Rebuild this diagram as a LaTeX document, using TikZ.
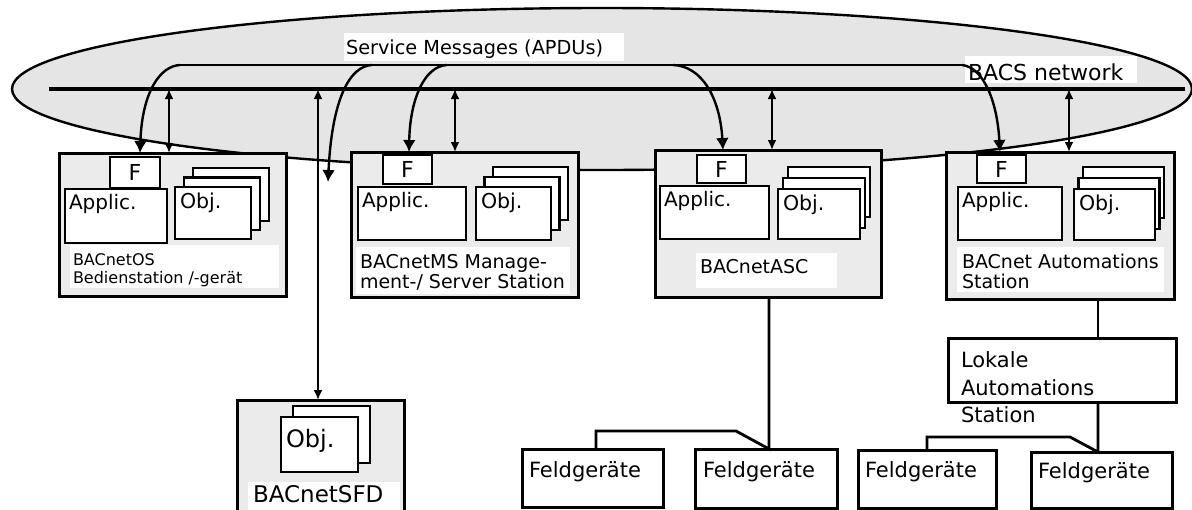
\documentclass[tikz,border=0pt]{standalone}
\usepackage{fontspec}
\setmainfont{DejaVu Sans}
\usetikzlibrary{arrows.meta,shapes.geometric}
\newcommand\FS[1]{\fontsize{#1}{#1}\selectfont}
\newcommand\RBox[7]{\node[#2, anchor=north west, minimum width={(#5)-(#3)}, minimum height={(#6)-(#4)}] (#1) at (#3,#4) {#7};}
\begin{document}
\begin{tikzpicture}[x=1pt,y=-1pt,
  every node/.style={inner sep=0pt, outer sep=0pt},
  station/.style={draw, line width=3pt, fill=black!8},
  inner/.style={draw, line width=2.8pt, fill=white},
  fbox/.style={draw, line width=2.6pt, fill=white, font=\FS{22}},
  labelbg/.style={fill=white},
  field/.style={draw, line width=3pt, fill=white},
  txt/.style={anchor=base west, inner sep=0pt},
  conn/.style={line width=2.8pt},
  dbl/.style={line width=2.4pt, {Latex[length=10pt,width=9pt]}-{Latex[length=10pt,width=9pt]}},
  msg/.style={line width=2.4pt, -{Latex[length=12pt,width=13pt]}},
]
\useasboundingbox (0,0) rectangle (1192,509);
\fill[white] (0,0) rectangle (1192,509);

% network ellipse
\node[draw, line width=2.4pt, fill=black!10, ellipse, minimum width=1180pt, minimum height=162pt] (net) at (602,89) {};

% labels on the network
\RBox{smbg}{labelbg}{344}{33}{624}{61}{}
\node[txt, font=\FS{19.3}] (smt) at (346,54) {Service Messages (APDUs)};
\RBox{bacsbg}{labelbg}{965}{56}{1137}{83}{}
\node[txt, font=\FS{22}] (bacst) at (968,80) {BACS network};

% bus
\coordinate (busL) at (49,89);
\coordinate (busR) at (1185,89);
\draw[line width=4.5pt] (busL) -- (busR);

% message line
\coordinate (mA) at (180,65);
\coordinate (mM) at (740,65);
\coordinate (mB) at (962,65);
\draw[line width=2pt] (mA) -- (mM);
\draw[line width=1.2pt] (mM) -- (mB);

% stations
\RBox{os}{station}{59}{153}{286}{296}{}
\RBox{ms}{station}{351}{152}{578}{297}{}
\RBox{asc}{station}{655}{150}{881}{297}{}
\RBox{as}{station}{946}{152}{1174}{299}{}
\RBox{sfd}{station}{237}{400}{404}{525}{}

% message arrows
\coordinate (m2) at (372,65);
\coordinate (m3) at (447,65);
\coordinate (m4) at (673,65);
\coordinate (a2) at (328,182);
\draw[msg] (mA) .. controls (160,66) and (142,92) .. (os.north -| 140,0);
\draw[msg] (m2) .. controls (350,66) and (332,98) .. (a2);
\draw[msg] (m3) .. controls (425,66) and (410,98) .. (ms.north -| 409,0);
\draw[msg] (m4) .. controls (702,66) and (720,98) .. (asc.north -| 723,0);
\draw[msg] (mB) .. controls (982,67) and (997,98) .. (as.north -| 1000,0);

% bus access arrows
\coordinate (b1) at (169,89);
\coordinate (b0) at (318,89);
\coordinate (b2) at (455,89);
\coordinate (b3) at (772,89);
\coordinate (b4) at (1069,89);
\draw[dbl] (b1) -- (b1 |- os.north);
\draw[dbl] (b0) -- (b0 |- sfd.north);
\draw[dbl] (b2) -- (b2 |- ms.north);
\draw[dbl] (b3) -- (b3 |- asc.north);
\draw[dbl] (b4) -- (b4 |- as.north);

% --- BACnetOS
\RBox{osF}{fbox}{110}{157}{160}{188}{F}
\RBox{osA}{inner}{65}{189}{167}{243}{}
\node[txt, font=\FS{20}] (osAt) at (69,209) {Applic.};
\RBox{osO3}{inner}{193}{168}{269}{221}{}
\RBox{osO2}{inner}{184}{177.5}{260}{230}{}
\RBox{osO1}{inner}{175}{187}{251}{239}{}
\node[txt, font=\FS{20.5}] (osOt) at (180,208) {Obj.};
\RBox{osL}{labelbg}{70}{245}{279}{288}{}
\node[txt, font=\FS{16}] (osL1) at (73,265) {BACnetOS};
\node[txt, font=\FS{16}] (osL2) at (73,283) {Bedienstation /-gerät};

% --- BACnetMS
\RBox{msF}{fbox}{383}{155}{432}{184}{F}
\RBox{msA}{inner}{358}{187}{466}{240}{}
\node[txt, font=\FS{20}] (msAt) at (362,207) {Applic.};
\RBox{msO3}{inner}{493}{167}{568}{220}{}
\RBox{msO2}{inner}{484.5}{177}{559.5}{230}{}
\RBox{msO1}{inner}{476}{187}{551}{240}{}
\node[txt, font=\FS{20.5}] (msOt) at (481,208) {Obj.};
\RBox{msL}{labelbg}{356}{247}{570}{294}{}
\node[txt, font=\FS{19}] (msL1) at (360,268) {BACnetMS Manage-};
\node[txt, font=\FS{19}] (msL2) at (360,288) {ment-/ Server Station};

% --- BACnetASC
\RBox{ascF}{fbox}{697}{155}{746}{183}{F}
\RBox{ascA}{inner}{660}{186}{769}{239}{}
\node[txt, font=\FS{20}] (ascAt) at (664,206) {Applic.};
\RBox{ascO3}{inner}{788}{167}{870}{217}{}
\RBox{ascO2}{inner}{783}{178}{865}{228}{}
\RBox{ascO1}{inner}{778}{189}{860}{239}{}
\node[txt, font=\FS{20.5}] (ascOt) at (783,210) {Obj.};
\RBox{ascL}{labelbg}{696}{253}{837}{288}{}
\node[txt, font=\FS{19}] (ascL1) at (700,273) {BACnetASC};

% --- BACnet Automations Station
\RBox{asF}{fbox}{977}{155}{1026}{183}{F}
\RBox{asA}{inner}{958}{187}{1062}{240}{}
\node[txt, font=\FS{20}] (asAt) at (962,207) {Applic.};
\RBox{asO3}{inner}{1083}{167}{1164}{218}{}
\RBox{asO2}{inner}{1078.5}{178}{1159.5}{229}{}
\RBox{asO1}{inner}{1074}{189}{1155}{240}{}
\node[txt, font=\FS{20.5}] (asOt) at (1079,210) {Obj.};
\RBox{asL}{labelbg}{957}{247}{1164}{292}{}
\node[txt, font=\FS{19}] (asL1) at (962,268) {BACnet Automations};
\node[txt, font=\FS{19}] (asL2) at (962,288) {Station};

% --- BACnetSFD
\RBox{sfdO2}{inner}{293}{406}{370}{463}{}
\RBox{sfdO1}{inner}{281}{417}{358}{472}{}
\node[txt, font=\FS{24}] (sfdOt) at (286,447) {Obj.};
\RBox{sfdL}{labelbg}{248}{482}{400}{520}{}
\node[txt, font=\FS{23}] (sfdL1) at (253,502) {BACnetSFD};

% --- Lokale Automations Station
\RBox{lok}{field}{948}{338}{1176}{402}{}
\node[txt, font=\FS{21}] (lok1) at (961,367) {Lokale};
\node[txt, font=\FS{21}] (lok2) at (961,395) {Automations};
\node[txt, font=\FS{21}] (lok3) at (961,422) {Station};

% --- Feldgeraete
\RBox{f1}{field}{522}{449}{663}{507}{}
\RBox{f2}{field}{695}{449}{837}{508}{}
\RBox{f3}{field}{858}{450}{996}{508}{}
\RBox{f4}{field}{1031}{452}{1172}{508}{}
\node[txt, font=\FS{21}] (f1t) at (529,477) {Feldgeräte};
\node[txt, font=\FS{21}] (f2t) at (703,477) {Feldgeräte};
\node[txt, font=\FS{21}] (f3t) at (865,477) {Feldgeräte};
\node[txt, font=\FS{21}] (f4t) at (1038,478) {Feldgeräte};

% field connections
\coordinate (c2) at (769,0);
\coordinate (c4) at (1098,0);
\draw[conn] (asc.south -| c2) -- (f2.north -| c2) -- ++(-33,-18) -| (f1.north -| 596,0);
\draw[conn] (as.south -| c4) -- (lok.north -| c4);
\draw[conn] (lok.south -| c4) -- (f4.north -| c4) -- ++(-28,-15) -| (f3.north);
\end{tikzpicture}
\end{document}
